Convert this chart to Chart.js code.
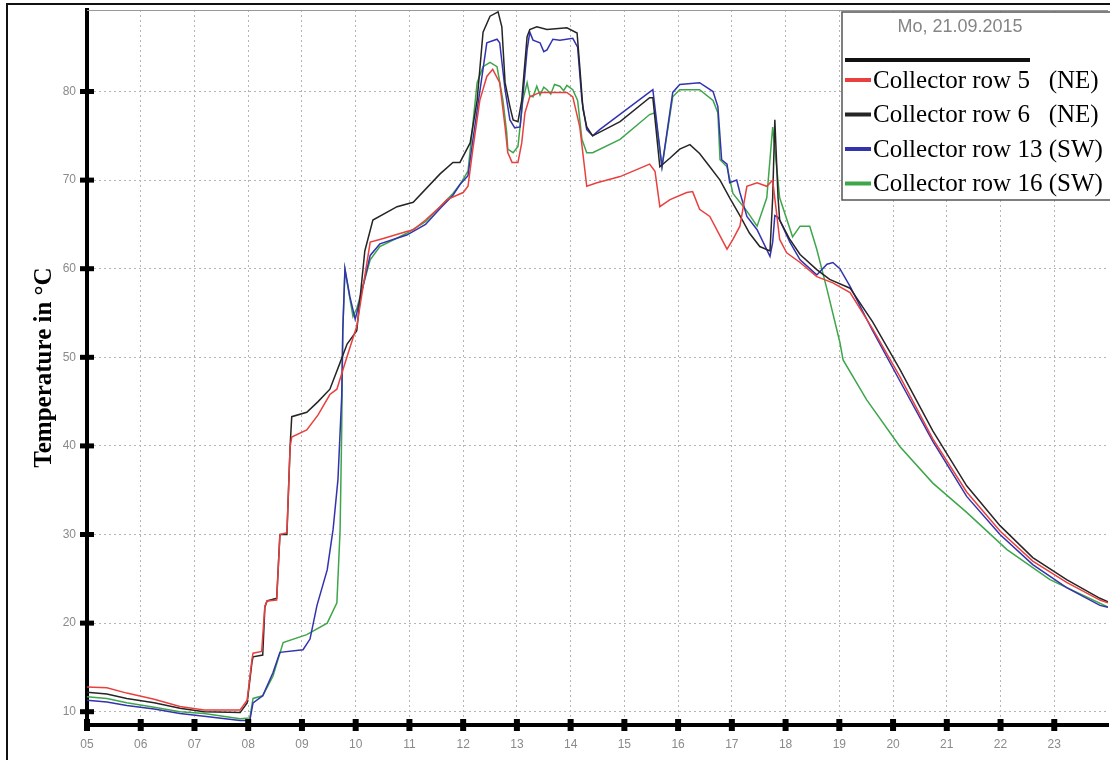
<!DOCTYPE html>
<html>
<head>
<meta charset="utf-8">
<script src="https://cdn.jsdelivr.net/npm/chart.js@4.4.0/dist/chart.umd.min.js"></script>
<style>
  html, body { margin: 0; padding: 0; background: #fff; }
  #wrap { width: 1110px; height: 760px; }
</style>
</head>
<body>
<div id="wrap"><canvas id="chart" width="1110" height="760"></canvas></div>
<script>
// time of day (decimal hours) and temperature (°C)
const row5Hours = [5.00, 5.37, 5.74, 6.25, 6.73, 7.18, 7.85, 7.98, 8.07, 8.09, 8.25, 8.31, 8.35, 8.53, 8.59, 8.72, 8.78, 8.81, 9.09, 9.30, 9.52, 9.65, 9.84, 10.02, 10.27, 10.45, 10.95, 11.07, 11.30, 11.57, 11.70, 12.00, 12.09, 12.18, 12.31, 12.44, 12.55, 12.68, 12.78, 12.83, 12.91, 13.02, 13.09, 13.15, 13.24, 13.43, 13.93, 14.04, 14.17, 14.30, 14.49, 14.92, 15.47, 15.57, 15.66, 15.85, 16.16, 16.27, 16.40, 16.59, 16.91, 17.02, 17.15, 17.28, 17.47, 17.65, 17.76, 17.89, 18.02, 18.27, 18.58, 18.88, 19.20, 19.62, 20.13, 20.74, 21.37, 21.99, 22.60, 23.23, 23.85, 24.00];
const row5Temps = [12.8, 12.7, 12.1, 11.4, 10.6, 10.2, 10.2, 11.3, 15.9, 16.6, 16.8, 21.9, 22.5, 22.6, 30.0, 30.2, 39.9, 41.0, 41.8, 43.5, 45.8, 46.4, 50.1, 53.5, 63.0, 63.3, 64.2, 64.4, 65.5, 67.0, 67.8, 68.6, 69.3, 73.5, 79.0, 81.7, 82.5, 81.0, 76.0, 73.1, 72.0, 72.0, 74.2, 77.6, 79.4, 79.9, 79.9, 79.4, 76.0, 69.3, 69.7, 70.4, 71.8, 71.0, 67.0, 67.8, 68.6, 68.7, 66.7, 65.9, 62.2, 63.3, 64.8, 69.3, 69.7, 69.3, 70.0, 63.3, 61.8, 60.7, 59.1, 58.4, 57.3, 53.2, 47.8, 40.8, 34.8, 30.4, 27.0, 24.6, 22.6, 22.3];

const row6Hours = [5.00, 5.37, 5.74, 6.25, 6.73, 7.18, 7.85, 7.98, 8.07, 8.09, 8.27, 8.31, 8.35, 8.53, 8.59, 8.72, 8.78, 8.81, 9.09, 9.30, 9.52, 9.71, 9.84, 10.02, 10.17, 10.32, 10.77, 11.07, 11.57, 11.81, 11.94, 12.13, 12.26, 12.37, 12.50, 12.65, 12.72, 12.78, 12.87, 12.93, 13.02, 13.09, 13.19, 13.24, 13.37, 13.56, 13.93, 14.12, 14.17, 14.23, 14.30, 14.41, 14.92, 15.47, 15.53, 15.66, 15.85, 16.03, 16.22, 16.40, 16.59, 16.78, 16.96, 17.15, 17.33, 17.52, 17.71, 17.76, 17.80, 17.86, 17.89, 18.08, 18.27, 18.58, 18.82, 19.20, 19.62, 20.13, 20.74, 21.37, 21.99, 22.60, 23.23, 23.85, 24.00];
const row6Temps = [12.2, 12.0, 11.5, 11.0, 10.4, 10.0, 9.9, 11.0, 15.6, 16.2, 16.4, 21.8, 22.5, 22.8, 30.0, 30.0, 40.0, 43.3, 43.8, 45.0, 46.4, 49.4, 51.5, 53.0, 62.0, 65.5, 67.0, 67.5, 70.7, 72.0, 72.0, 74.2, 79.0, 86.7, 88.5, 89.0, 87.3, 81.0, 78.3, 76.8, 76.6, 79.0, 86.2, 87.0, 87.3, 87.0, 87.2, 86.6, 82.8, 78.0, 76.0, 75.0, 76.6, 79.3, 79.3, 71.5, 72.5, 73.5, 74.0, 73.0, 71.5, 70.0, 68.0, 66.0, 64.0, 62.5, 62.0, 68.0, 76.8, 68.0, 65.5, 63.3, 61.6, 59.9, 58.8, 57.8, 54.0, 48.6, 41.7, 35.5, 31.0, 27.4, 24.9, 22.8, 22.4];

const row13Hours = [5.00, 5.37, 5.74, 6.25, 6.73, 7.18, 7.85, 8.03, 8.09, 8.27, 8.46, 8.59, 9.02, 9.15, 9.28, 9.47, 9.58, 9.67, 9.74, 9.76, 9.80, 9.89, 9.99, 10.02, 10.27, 10.45, 10.95, 11.30, 11.57, 11.81, 11.94, 12.09, 12.18, 12.31, 12.44, 12.63, 12.68, 12.78, 12.87, 12.96, 13.06, 13.19, 13.24, 13.30, 13.43, 13.50, 13.56, 13.67, 13.80, 14.04, 14.13, 14.21, 14.30, 14.41, 14.54, 15.53, 15.70, 15.90, 16.03, 16.40, 16.65, 16.74, 16.81, 16.91, 16.96, 17.09, 17.15, 17.28, 17.47, 17.71, 17.76, 17.80, 17.86, 17.89, 18.08, 18.27, 18.58, 18.77, 18.88, 19.01, 19.20, 19.62, 20.13, 20.74, 21.37, 21.99, 22.60, 23.23, 23.85, 24.00];
const row13Temps = [11.3, 11.1, 10.7, 10.3, 9.8, 9.5, 9.0, 9.0, 11.0, 11.8, 14.4, 16.7, 17.0, 18.2, 22.0, 26.0, 30.6, 36.2, 45.6, 53.0, 60.0, 56.9, 54.3, 55.0, 61.5, 62.8, 63.8, 65.0, 66.8, 68.3, 69.5, 70.5, 74.5, 80.0, 85.5, 85.9, 85.5, 80.2, 76.8, 75.9, 76.0, 84.7, 86.7, 85.8, 85.5, 84.5, 84.7, 85.9, 85.8, 86.0, 85.0, 79.0, 75.7, 75.0, 75.7, 80.2, 71.5, 79.9, 80.8, 81.0, 80.0, 78.3, 72.3, 71.8, 69.7, 70.0, 68.6, 65.9, 64.4, 61.4, 63.0, 66.0, 65.8, 65.5, 63.0, 61.0, 59.3, 60.5, 60.7, 60.0, 58.0, 53.0, 47.3, 40.5, 34.3, 30.0, 26.6, 24.0, 22.0, 21.8];

const row16Hours = [5.00, 5.37, 5.74, 6.25, 6.73, 7.18, 7.85, 8.03, 8.09, 8.27, 8.46, 8.65, 9.09, 9.47, 9.65, 9.71, 9.74, 9.76, 9.80, 9.95, 10.02, 10.27, 10.45, 10.95, 11.30, 11.57, 11.81, 11.94, 12.09, 12.26, 12.37, 12.50, 12.63, 12.74, 12.81, 12.83, 12.93, 13.02, 13.11, 13.19, 13.24, 13.30, 13.37, 13.43, 13.50, 13.56, 13.63, 13.70, 13.80, 13.87, 13.93, 14.04, 14.13, 14.21, 14.30, 14.41, 14.92, 15.47, 15.57, 15.70, 15.90, 16.03, 16.40, 16.65, 16.74, 16.78, 16.91, 17.02, 17.28, 17.47, 17.65, 17.76, 17.89, 18.13, 18.27, 18.45, 18.58, 18.77, 19.01, 19.07, 19.51, 20.13, 20.74, 21.37, 22.12, 22.92, 24.00];
const row16Temps = [11.7, 11.5, 11.0, 10.5, 10.0, 9.8, 9.2, 9.3, 11.5, 11.8, 14.0, 17.8, 18.7, 20.0, 22.3, 30.5, 41.8, 53.0, 59.9, 54.6, 55.5, 61.0, 62.5, 64.0, 65.3, 67.0, 68.5, 69.5, 71.0, 81.0, 82.8, 83.3, 82.8, 79.0, 75.4, 73.5, 73.1, 73.8, 79.0, 81.0, 79.5, 79.4, 80.6, 79.6, 80.5, 80.2, 79.7, 80.8, 80.6, 80.1, 80.7, 80.2, 79.0, 74.6, 73.1, 73.1, 74.6, 77.4, 77.6, 71.5, 79.4, 80.2, 80.2, 79.0, 77.6, 72.3, 71.5, 68.5, 66.5, 64.8, 68.0, 76.0, 68.0, 63.6, 64.8, 64.8, 62.2, 57.7, 51.7, 49.7, 45.2, 39.9, 35.8, 32.5, 28.3, 24.9, 21.8];

const seriesLabels = ['Collector row 5   (NE)', 'Collector row 6   (NE)', 'Collector row 13 (SW)', 'Collector row 16 (SW)'];
const seriesColors = ['#e8403f', '#252525', '#3333b0', '#3ea64a'];
const yTickValues = [10, 20, 30, 40, 50, 60, 70, 80];
const xTickValues = [5, 6, 7, 8, 9, 10, 11, 12, 13, 14, 15, 16, 17, 18, 19, 20, 21, 22, 23];
const dateLabel = 'Mo, 21.09.2015';
const yTitle = 'Temperature in °C';

function toPoints(hours, temps) {
  return hours.map((h, i) => ({ x: h, y: temps[i] }));
}

const seriesData = [
  toPoints(row5Hours, row5Temps),
  toPoints(row6Hours, row6Temps),
  toPoints(row13Hours, row13Temps),
  toPoints(row16Hours, row16Temps)
];

// frame, tick dots and the boxed legend of the original plot
const decorations = {
  id: 'decorations',
  beforeDraw(chart) {
    const ctx = chart.ctx;
    ctx.save();
    ctx.fillStyle = '#fff';
    ctx.fillRect(0, 0, chart.width, chart.height);
    ctx.restore();
  },
  afterDraw(chart) {
    const ctx = chart.ctx;
    const area = chart.chartArea;
    const xs = chart.scales.x;
    const ys = chart.scales.y;
    ctx.save();

    // outer frame
    ctx.strokeStyle = '#111';
    ctx.lineWidth = 2;
    ctx.beginPath();
    ctx.moveTo(7, chart.height);
    ctx.lineTo(7, 4);
    ctx.lineTo(chart.width, 4);
    ctx.stroke();

    // thin top edge of plot
    ctx.strokeStyle = '#999';
    ctx.lineWidth = 1;
    ctx.beginPath();
    ctx.moveTo(area.left, area.top + 0.5);
    ctx.lineTo(area.right, area.top + 0.5);
    ctx.stroke();

    // tick dots on the axes
    ctx.fillStyle = '#000';
    ys.ticks.forEach(t => {
      const py = ys.getPixelForValue(t.value);
      ctx.fillRect(area.left - 7, py - 2.5, 14, 5);
    });
    xs.ticks.forEach(t => {
      const px = xs.getPixelForValue(t.value);
      ctx.fillRect(px - 3, area.bottom - 6, 6, 12);
    });

    // legend box
    const bx = 842, by = 12, bw = 300, bh = 188;
    ctx.fillStyle = '#fff';
    ctx.fillRect(bx, by, bw, bh);
    ctx.strokeStyle = '#555';
    ctx.lineWidth = 1.5;
    ctx.strokeRect(bx, by, bw, bh);

    ctx.fillStyle = '#858585';
    ctx.font = '18px "Liberation Sans", Arial, sans-serif';
    ctx.textAlign = 'center';
    ctx.textBaseline = 'middle';
    ctx.fillText(dateLabel, 960, 27);

    ctx.fillStyle = '#111';
    ctx.fillRect(845, 58, 185, 4);

    ctx.font = '25px "Liberation Serif", "Times New Roman", serif';
    ctx.textAlign = 'left';
    chart.data.datasets.forEach((ds, i) => {
      const ly = 80 + i * 34.5;
      ctx.fillStyle = ds.borderColor;
      ctx.fillRect(845, ly - 2, 26, 4);
      ctx.fillStyle = '#000';
      ctx.fillText(ds.label, 873, ly + 1);
    });
    ctx.restore();
  }
};

new Chart(document.getElementById('chart'), {
  type: 'line',
  data: {
    datasets: seriesData.map((pts, i) => ({
      label: seriesLabels[i],
      data: pts,
      borderColor: seriesColors[i],
      backgroundColor: seriesColors[i],
      borderWidth: 1.5,
      pointRadius: 0,
      tension: 0,
      fill: false
    }))
  },
  options: {
    responsive: false,
    animation: false,
    devicePixelRatio: 1,
    layout: { padding: { top: 10, right: 2, bottom: 0, left: 0 } },
    plugins: {
      legend: { display: false },
      tooltip: { enabled: false }
    },
    scales: {
      x: {
        type: 'linear',
        min: 5,
        max: 24,
        afterBuildTicks: scale => { scale.ticks = xTickValues.map(v => ({ value: v })); },
        afterFit: scale => { scale.height = 35; },
        grid: { color: '#b5b5b5', lineWidth: 1, drawTicks: false },
        border: { display: true, color: '#000', width: 4, dash: [2, 3] },
        ticks: {
          color: '#8a8a8a',
          font: { family: '"Liberation Sans", Arial, sans-serif', size: 12 },
          padding: 12,
          maxRotation: 0,
          autoSkip: false,
          callback: v => String(v).padStart(2, '0')
        }
      },
      y: {
        type: 'linear',
        min: 8.5,
        max: 89.2,
        afterBuildTicks: scale => { scale.ticks = yTickValues.map(v => ({ value: v })); },
        afterFit: scale => {
          scale.width = 87;
          scale.paddingTop = 0;
          scale.paddingBottom = 0;
        },
        grid: { color: '#b5b5b5', lineWidth: 1, drawTicks: false },
        border: { display: true, color: '#000', width: 4, dash: [2, 3] },
        ticks: {
          color: '#8a8a8a',
          font: { family: '"Liberation Sans", Arial, sans-serif', size: 12 },
          padding: 11,
          autoSkip: false
        },
        title: {
          display: true,
          text: yTitle,
          color: '#000',
          font: { family: '"Liberation Serif", "Times New Roman", serif', size: 25, weight: 'bold' },
          padding: { top: 30, bottom: 0 }
        }
      }
    }
  },
  plugins: [decorations]
});
</script>
</body>
</html>
